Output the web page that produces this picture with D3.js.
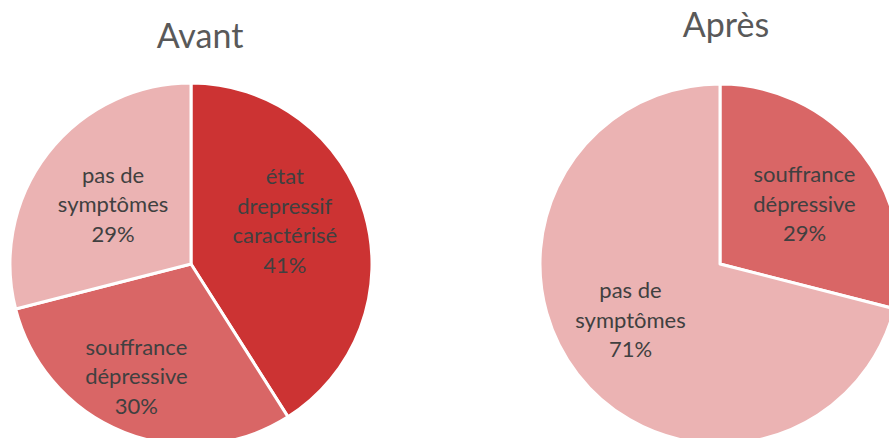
<!DOCTYPE html>
<html>
<head>
<meta charset="utf-8">
<script src="https://cdn.jsdelivr.net/npm/d3@7"></script>
<style>
  body { margin: 0; background: #fff; }
  svg { display: block; font-family: Lato, "Open Sans", sans-serif; }
</style>
</head>
<body>
<svg id="chart" width="889" height="438"></svg>
<script>
// data
const avantCategories = ["état drepressif caractérisé", "souffrance dépressive", "pas de symptômes"];
const avantValues = [41, 30, 29];
const apresCategories = ["souffrance dépressive", "pas de symptômes"];
const apresValues = [29, 71];
const titles = ["Avant", "Après"];

// how each category label wraps
const labelLines = {
  "état drepressif caractérisé": ["état", "drepressif", "caractérisé"],
  "souffrance dépressive": ["souffrance", "dépressive"],
  "pas de symptômes": ["pas de", "symptômes"]
};

const color = d3.scaleOrdinal()
  .domain(["état drepressif caractérisé", "souffrance dépressive", "pas de symptômes"])
  .range(["#CC3333", "#D96666", "#EBB3B3"]);

const svg = d3.select("#chart");

// layout; nudge moves each label a bit like excel's "best fit"
const charts = [
  { title: titles[0], cats: avantCategories, vals: avantValues, cx: 191, cy: 264, r: 181, tx: 200, ty: 48,
    nudge: [[-7, -14], [-16, 15], [5, 5]] },
  { title: titles[1], cats: apresCategories, vals: apresValues, cx: 720, cy: 264, r: 180, tx: 726, ty: 37,
    nudge: [[2, 4], [-7, -8]] }
];

const pie = d3.pie().sort(null).value(d => d.value);

charts.forEach(c => {
  const data = c.cats.map((k, i) => ({ key: k, value: c.vals[i] }));
  const arcs = pie(data);
  const arc = d3.arc().innerRadius(0).outerRadius(c.r);
  const labelArc = d3.arc().innerRadius(c.r * 0.58).outerRadius(c.r * 0.58);

  const g = svg.append("g").attr("transform", `translate(${c.cx},${c.cy})`);

  g.selectAll("path")
    .data(arcs)
    .enter()
    .append("path")
    .attr("d", arc)
    .attr("fill", d => color(d.data.key))
    .attr("stroke", "#fff")
    .attr("stroke-width", 3)
    .attr("stroke-linejoin", "round");

  const lineH = 29.5;
  g.selectAll("text.lbl")
    .data(arcs)
    .enter()
    .append("text")
    .attr("class", "lbl")
    .attr("text-anchor", "middle")
    .attr("fill", "#404040")
    .attr("font-size", 22)
    .each(function(d, i) {
      const lines = labelLines[d.data.key].concat([Math.round(d.value) + "%"]);
      let [x, y] = labelArc.centroid(d);
      x += c.nudge[i][0];
      y += c.nudge[i][1];
      const top = y - (lines.length - 1) * lineH / 2;
      const t = d3.select(this);
      lines.forEach((s, j) => {
        t.append("tspan")
          .attr("x", x)
          .attr("y", top + j * lineH)
          .attr("dy", "0.35em")
          .text(s);
      });
    });

  svg.append("text")
    .attr("x", c.tx)
    .attr("y", c.ty)
    .attr("text-anchor", "middle")
    .attr("fill", "#595959")
    .attr("font-size", 34)
    .text(c.title);
});
</script>
</body>
</html>
